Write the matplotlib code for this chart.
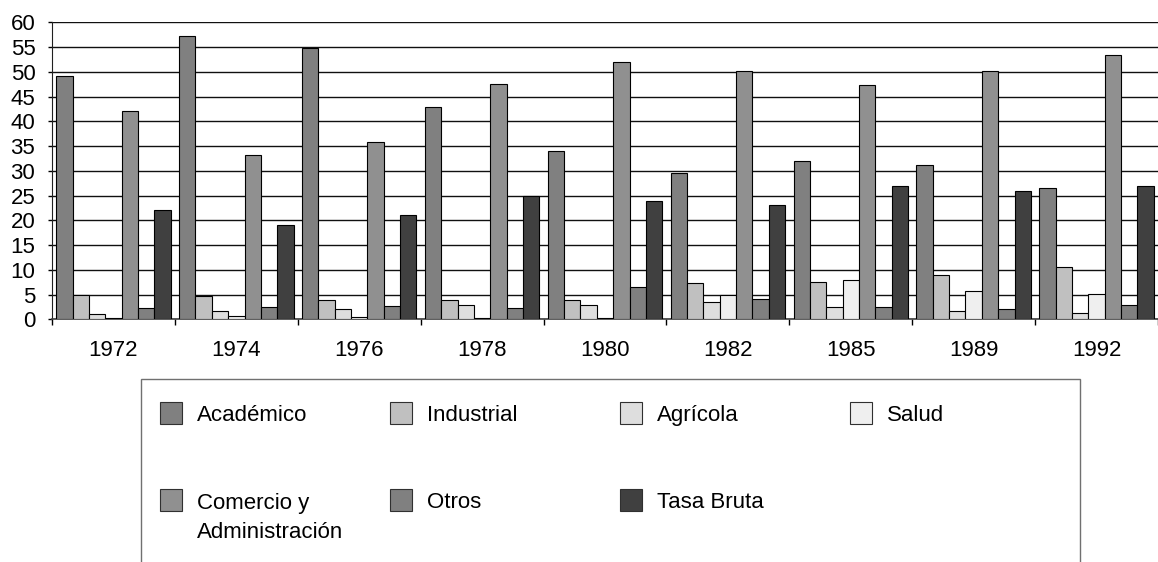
import matplotlib
matplotlib.use("Agg")
import matplotlib.pyplot as plt
import numpy as np
from matplotlib.patches import Rectangle

years = ["1972", "1974", "1976", "1978", "1980", "1982", "1985", "1989", "1992"]
series_names = ["Académico", "Industrial", "Agrícola", "Salud",
                "Comercio y\nAdministración", "Otros", "Tasa Bruta"]
academico = [49.2, 57.2, 54.9, 42.8, 34.1, 29.5, 31.9, 31.2, 26.6]
industrial = [4.9, 4.7, 3.9, 3.8, 4.0, 7.3, 7.5, 8.9, 10.5]
agricola = [1.1, 1.6, 2.0, 2.8, 2.9, 3.4, 2.4, 1.75, 1.2]
salud = [0.2, 0.7, 0.4, 0.2, 0.2, 5.0, 7.9, 5.65, 5.2]
comercio = [42.0, 33.1, 35.8, 47.5, 52.0, 50.2, 47.3, 50.2, 53.3]
otros = [2.2, 2.4, 2.7, 2.3, 6.5, 4.1, 2.5, 2.0, 2.8]
tasa_bruta = [22, 19, 21, 25, 24, 23, 27, 26, 27]
colors = ["#808080", "#C0C0C0", "#DEDEDE", "#EFEFEF", "#909090", "#808080", "#404040"]
yticks = list(range(0, 61, 5))

series = [academico, industrial, agricola, salud, comercio, otros, tasa_bruta]

W, H = 1158, 562
fig = plt.figure(figsize=(W / 100, H / 100), dpi=100)
FONT = "Liberation Sans"
FS = 16

ax_left, ax_right = 52, 1158
ax_bottom, ax_top = 319.3, 22.3
ax = fig.add_axes([ax_left / W, (H - ax_bottom) / H, (ax_right - ax_left) / W, (ax_bottom - ax_top) / H])

x = np.arange(len(years))
bw = 0.133
for k, (vals, c) in enumerate(zip(series, colors)):
    ax.bar(x + (k - 3) * bw, vals, width=bw, color=c, edgecolor="black", linewidth=0.8, zorder=3)

group_px = 124.0
ax.set_xlim(-0.5, -0.5 + (ax_right - ax_left) / group_px)
ax.set_ylim(0, 60)
ax.set_yticks(yticks)
ax.set_yticklabels([str(v) for v in yticks], fontsize=FS, fontfamily=FONT)
ax.set_xticks(x)
ax.set_xticklabels(years, fontsize=FS, fontfamily=FONT)
ax.set_xticks(np.arange(len(years) + 1) - 0.5, minor=True)
ax.tick_params(axis="x", which="major", length=0, pad=15)
ax.tick_params(axis="x", which="minor", length=4, width=1, color="black", direction="out")
ax.tick_params(axis="y", length=3, width=1, pad=9, color="black")
ax.yaxis.grid(True, color="#101010", linewidth=1.0, zorder=0)
ax.set_axisbelow(True)
for s in ["top", "right"]:
    ax.spines[s].set_visible(False)
ax.spines["left"].set_color("#202020")
ax.spines["bottom"].set_color("#404040")
ax.spines["bottom"].set_linewidth(1.2)

# Legend box (manual, Excel-style)
def fx(px):
    return px / W

def fy(py):
    return (H - py) / H

fig.add_artist(Rectangle((fx(141), fy(600)), fx(1080) - fx(141), fy(379) - fy(600),
                         transform=fig.transFigure, facecolor="white", edgecolor="#707070",
                         linewidth=1.0, clip_on=False))
col_x = [160, 390, 620, 850]
row_c = [413, 500]
ps = 22
line_px = 30
for i, (name, c) in enumerate(zip(series_names, colors)):
    r, cidx = divmod(i, 4)
    px0 = col_x[cidx]
    cy = row_c[r]
    fig.add_artist(Rectangle((fx(px0), fy(cy + ps / 2)), ps / W, ps / H,
                             transform=fig.transFigure, facecolor=c, edgecolor="#303030",
                             linewidth=0.8))
    nlines = name.count("\n") + 1
    fig.text(fx(px0 + 37), fy(cy + 8 + line_px * (nlines - 1)), name, fontsize=FS,
             fontfamily=FONT, va="baseline", ha="left", linespacing=1.5)

fig.savefig("out.png", dpi=100)
